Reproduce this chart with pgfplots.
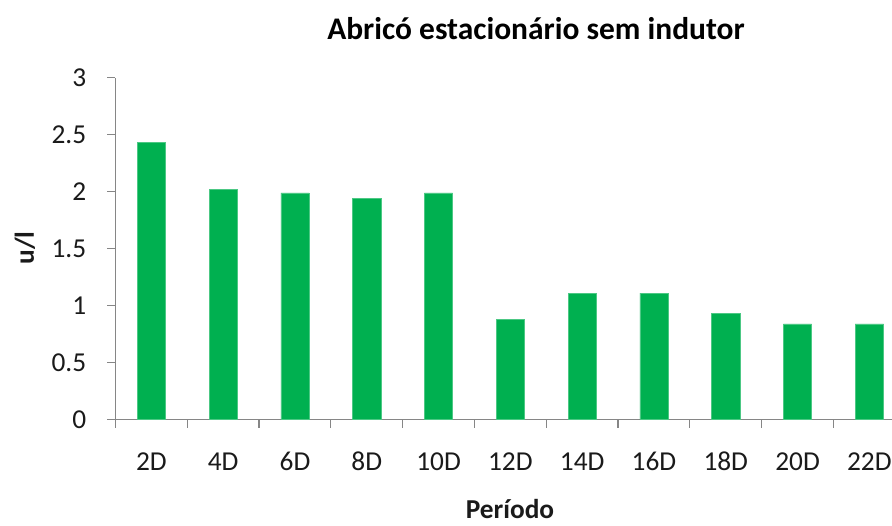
\documentclass[border=0pt]{standalone}
\usepackage{fontspec}
\setmainfont{Carlito}
\usepackage{pgfplots}
\pgfplotsset{compat=1.18}
\definecolor{barGreen}{HTML}{00B050}
\definecolor{axisGray}{HTML}{868686}
\definecolor{txt}{HTML}{1A1A1A}
\begin{document}
\begin{tikzpicture}[x=0.75pt,y=0.75pt]
% fixed page frame (units of 0.75pt), lower left corner of the axis at (0,0)
\path[use as bounding box] (-115.5,-105.5) rectangle (776.5,419.5);
\begin{axis}[
  at={(0,0)}, anchor=south west,
  scale only axis,
  width=582.375pt, height=256.35pt,
  xmin=-0.5, xmax=10.315,
  ymin=0, ymax=3,
  ytick={0,0.5,...,3},
  yticklabels={0,0.5,1,1.5,2,2.5,3},
  xtick={0,...,10},
  xticklabels={2D,4D,6D,8D,10D,12D,14D,16D,18D,20D,22D},
  minor xtick={-0.5,0.5,...,9.5},
  axis x line*=bottom,
  axis y line*=left,
  axis line style={draw=axisGray, line width=0.9pt},
  tick align=outside,
  x tick style={draw=none},
  minor x tick style={draw=axisGray, line width=0.9pt},
  minor tick length=6pt,
  y tick style={draw=axisGray, line width=0.9pt},
  major tick length=6pt,
  ticklabel style={font=\fontsize{20.5}{24}\selectfont, text=txt},
  xticklabel style={anchor=base, yshift=-32.6pt, inner sep=0pt},
  yticklabel style={anchor=east, inner sep=0pt, xshift=-15.75pt},
  clip=false,
]
\addplot[ybar, bar width=0.394, fill=barGreen, draw=barGreen!70!white, line width=0.4pt]
  coordinates {
    (0,2.43) (1,2.02) (2,1.99) (3,1.94) (4,1.99) (5,0.88)
    (6,1.11) (7,1.11) (8,0.93) (9,0.84) (10,0.84)
  };
\end{axis}
% title and axis titles
\node[anchor=base, font=\bfseries\fontsize{23.6}{28}\selectfont, text=black]
  at (420.5,380.2) {Abricó estacionário sem indutor};
\node[rotate=90, font=\bfseries\fontsize{20.5}{24}\selectfont, text=txt]
  at (-90.5,171.5) {u/l};
\node[anchor=base, font=\bfseries\fontsize{20.5}{24}\selectfont, text=txt, inner sep=0pt]
  at (394.5,-98.5) {Período};
\end{tikzpicture}
\end{document}
